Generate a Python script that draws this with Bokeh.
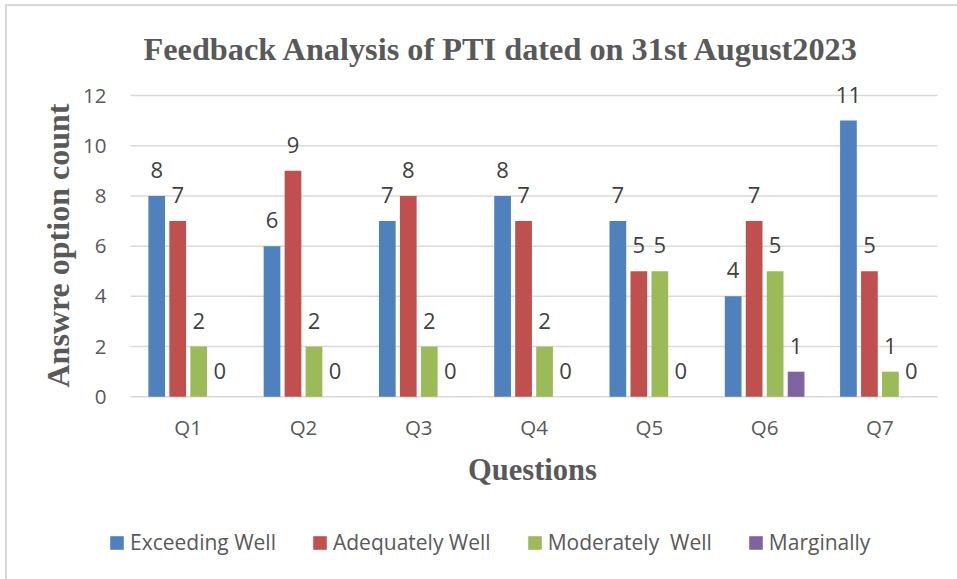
from bokeh.plotting import figure
from bokeh.models import (ColumnDataSource, Range1d, Legend, LegendItem,
                          FixedTicker, Title)
from bokeh.transform import dodge
from bokeh.core.properties import value
from bokeh.embed import file_html
from bokeh.resources import INLINE

# ---- data ----
questions = ["Q1", "Q2", "Q3", "Q4", "Q5", "Q6", "Q7"]
exceeding_well = [8, 6, 7, 8, 7, 4, 11]
adequately_well = [7, 9, 8, 7, 5, 7, 5]
moderately_well = [2, 2, 2, 2, 5, 5, 1]
marginally = [0, 0, 0, 0, 0, 1, 0]
series_names = ["Exceeding Well", "Adequately Well", "Moderately  Well", "Marginally"]
series_colors = ["#4F81BD", "#C0504D", "#9BBB59", "#8064A2"]
y_ticks = [0, 2, 4, 6, 8, 10, 12]

title_text = "Feedback Analysis of PTI dated on 31st  August2023"
x_title = "Questions"
y_title = "Answre option count"

series_cols = ["ew", "aw", "mw", "mg"]
series_vals = [exceeding_well, adequately_well, moderately_well, marginally]
xi = list(range(len(questions)))

data = {"xi": xi}
for c, v in zip(series_cols, series_vals):
    data[c] = v
    data[c + "_lbl"] = [str(x) for x in v]
src = ColumnDataSource(data)

# gridlines spanning the category band only
grid_src = ColumnDataSource({"y": y_ticks,
                             "x0": [xi[0] - 0.5] * len(y_ticks),
                             "x1": [xi[-1] + 0.5] * len(y_ticks)})

p = figure(x_range=Range1d(xi[0] - 0.7, xi[-1] + 0.673),
           y_range=Range1d(-7.277, 12.797),
           width=957, height=579,
           output_backend="svg", toolbar_location=None,
           min_border_left=107, min_border_right=0,
           min_border_top=75, min_border_bottom=0)

p.outline_line_color = None
p.background_fill_color = "white"
p.border_fill_color = "white"

p.add_layout(Title(text=title_text, align="left", offset=36,
                   text_font="Liberation Serif", text_font_style="bold",
                   text_font_size="32.3px", text_color="#595959",
                   standoff=17), "above")
p.add_layout(Title(text=y_title, align="left", offset=192,
                   text_font="Liberation Serif", text_font_style="bold",
                   text_font_size="32px", text_color="#595959",
                   standoff=10), "left")

p.segment(x0="x0", x1="x1", y0="y", y1="y", source=grid_src,
          line_color="#d9d9d9", line_width=1.5)

offsets = [-0.273, -0.091, 0.091, 0.273]
bar_w = 0.145
renderers = []
for c, off, color in zip(series_cols, offsets, series_colors):
    r = p.vbar(x=dodge("xi", off), top=c, width=bar_w, bottom=0,
               source=src, fill_color=color, line_color=None)
    renderers.append(r)
    p.text(x=dodge("xi", off), y=c, text=c + "_lbl", source=src,
           text_align="center", text_baseline="alphabetic", y_offset=-26,
           text_font=value("Open Sans"), text_font_size=value("22px"),
           text_color="#404040")

# axes
p.xgrid.grid_line_color = None
p.ygrid.grid_line_color = None
p.yaxis.ticker = FixedTicker(ticks=y_ticks)
p.xaxis.ticker = FixedTicker(ticks=xi)
p.xaxis.major_label_overrides = {i: q for i, q in zip(xi, questions)}
p.xaxis.fixed_location = 0

for ax in (p.xaxis, p.yaxis):
    ax.axis_line_color = None
    ax.major_tick_line_color = None
    ax.minor_tick_line_color = None
    ax.major_tick_out = 0
    ax.major_tick_in = 0
    ax.major_label_text_font = "Open Sans"
    ax.major_label_text_font_size = "20.5px"
    ax.major_label_text_color = "#595959"

p.xaxis.major_label_standoff = 16
p.xaxis.axis_label = x_title
p.xaxis.axis_label_text_font = "Liberation Serif"
p.xaxis.axis_label_text_font_style = "bold"
p.xaxis.axis_label_text_color = "#595959"
p.xaxis.axis_label_text_font_size = "30.5px"
p.xaxis.axis_label_standoff = 9

p.yaxis.major_label_standoff = 1

legend = Legend(items=[LegendItem(label=n, renderers=[r]) for n, r in zip(series_names, renderers)],
                orientation="horizontal", location=(1, 23),
                glyph_width=17, glyph_height=17, label_height=17,
                label_standoff=5, spacing=35, padding=0, margin=0,
                border_line_color=None, background_fill_alpha=0,
                label_text_font="Open Sans", label_text_font_size="21px",
                label_text_color="#595959")
p.add_layout(legend)

html = file_html(p, INLINE)
frame_div = ('<div style="position:fixed;left:5px;top:4px;width:1000px;height:1000px;'
             'border-top:2px solid #d9d9d9;border-left:2px solid #d9d9d9;'
             'pointer-events:none;z-index:10"></div>')
html = html.replace("</body>", frame_div + "</body>")
open("out.html", "w").write(html)
